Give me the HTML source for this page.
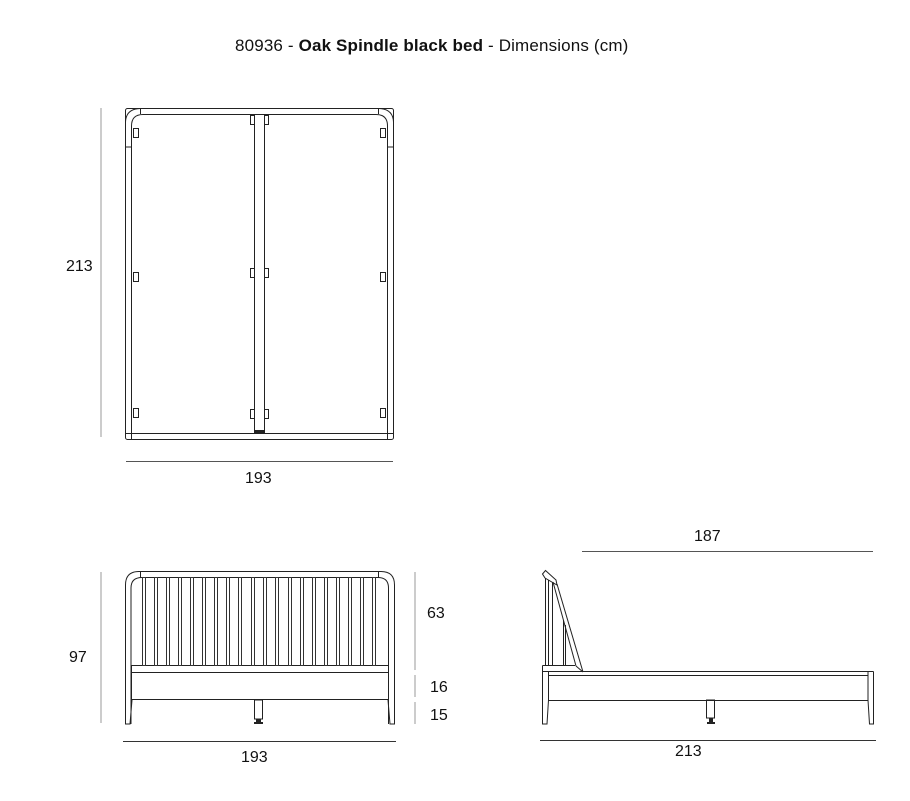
<!DOCTYPE html>
<html><head><meta charset="utf-8"><style>
html,body{margin:0;padding:0;background:#fff;}
svg{display:block;}
text{font-family:"Liberation Sans","DejaVu Sans",sans-serif;fill:#111;}
</style></head><body>
<svg width="910" height="801" viewBox="0 0 910 801" xmlns="http://www.w3.org/2000/svg">
<text x="235" y="51" font-size="17" letter-spacing="0.15"><tspan>80936 - </tspan><tspan font-weight="bold">Oak Spindle black bed</tspan><tspan> - Dimensions (cm)</tspan></text>

<!-- TOP VIEW -->
<g fill="none" stroke="#222" stroke-width="1">
  <rect x="125.5" y="108.5" width="268" height="331" rx="2"/>
  <path d="M131.5 439 V126 Q131.5 114.5 143 114.5 H376 Q387.5 114.5 387.5 126 V439"/>
  <line x1="125.5" y1="433.5" x2="393.5" y2="433.5"/>
  <path d="M125.5 122 Q126 109 140 108.5"/><line x1="140.5" y1="108.5" x2="140.5" y2="114"/>
  <path d="M393.5 122 Q393 109 379 108.5"/><line x1="378.5" y1="108.5" x2="378.5" y2="114"/>
  <line x1="125.5" y1="147" x2="131.5" y2="147"/><line x1="387.5" y1="147" x2="393.5" y2="147"/>
  <rect x="254.5" y="114.5" width="10" height="319"/>
  <rect x="250.5" y="115.5" width="4" height="9"/><rect x="264.5" y="115.5" width="4" height="9"/>
  <rect x="250.5" y="268.5" width="4" height="9"/><rect x="264.5" y="268.5" width="4" height="9"/>
  <rect x="250.5" y="409.5" width="4" height="9"/><rect x="264.5" y="409.5" width="4" height="9"/>
  <rect x="133.5" y="128.5" width="5" height="9"/><rect x="380.5" y="128.5" width="5" height="9"/>
  <rect x="133.5" y="272.5" width="5" height="9"/><rect x="380.5" y="272.5" width="5" height="9"/>
  <rect x="133.5" y="408.5" width="5" height="9"/><rect x="380.5" y="408.5" width="5" height="9"/>
</g>
<rect x="254" y="430" width="11" height="3" fill="#222"/>
<line x1="101" y1="108" x2="101" y2="437" stroke="#999" stroke-width="1"/>
<line x1="126" y1="461.5" x2="393" y2="461.5" stroke="#555" stroke-width="1"/>
<text x="66" y="271" font-size="16">213</text>
<text x="245" y="483" font-size="16">193</text>

<!-- FRONT VIEW -->
<g fill="none" stroke="#222" stroke-width="1">
  <path d="M125.5 724 V585 Q125.5 571.5 139 571.5 H381 Q394.5 571.5 394.5 585 V724"/>
  <path d="M131 724 V588 Q131 577.5 142 577.5 H378 Q388.5 577.5 388.5 588 V724"/>
  <line x1="140.5" y1="571.5" x2="140.5" y2="577.5"/><line x1="378.5" y1="571.5" x2="378.5" y2="577.5"/>
  <rect x="131.5" y="665.5" width="257" height="7"/>
  <rect x="131.5" y="672.5" width="257" height="27"/>
  <path d="M125.5 672 V724 H130 L132 700"/>
  <path d="M394.5 672 V724 H390 L388 700"/>
  <rect x="254.5" y="700" width="8" height="19"/>
</g>
<g fill="none" stroke="#333" stroke-width="1">
  <rect x="142.5" y="577.5" width="3" height="88"/><rect x="154.5" y="577.5" width="3" height="88"/>
  <rect x="166.5" y="577.5" width="3" height="88"/><rect x="178.5" y="577.5" width="3" height="88"/>
  <rect x="190.5" y="577.5" width="3" height="88"/><rect x="202.5" y="577.5" width="3" height="88"/>
  <rect x="214.5" y="577.5" width="3" height="88"/><rect x="226.5" y="577.5" width="3" height="88"/>
  <rect x="238.5" y="577.5" width="3" height="88"/><rect x="251.5" y="577.5" width="3" height="88"/>
  <rect x="263.5" y="577.5" width="3" height="88"/><rect x="275.5" y="577.5" width="3" height="88"/>
  <rect x="288.5" y="577.5" width="3" height="88"/><rect x="300.5" y="577.5" width="3" height="88"/>
  <rect x="312.5" y="577.5" width="3" height="88"/><rect x="324.5" y="577.5" width="3" height="88"/>
  <rect x="336.5" y="577.5" width="3" height="88"/><rect x="348.5" y="577.5" width="3" height="88"/>
  <rect x="360.5" y="577.5" width="3" height="88"/><rect x="372.5" y="577.5" width="3" height="88"/>
</g>
<rect x="256" y="719" width="5" height="5" fill="#222"/><rect x="254" y="722" width="9" height="2" fill="#222"/>
<line x1="101" y1="572" x2="101" y2="723" stroke="#999"/>
<line x1="415" y1="572" x2="415" y2="670" stroke="#999"/>
<line x1="415" y1="675" x2="415" y2="697" stroke="#999"/>
<line x1="415" y1="702" x2="415" y2="724" stroke="#999"/>
<line x1="123" y1="741.5" x2="396" y2="741.5" stroke="#333"/>
<text x="69" y="662" font-size="16">97</text>
<text x="427" y="618" font-size="16">63</text>
<text x="430" y="692" font-size="16">16</text>
<text x="430" y="720" font-size="16">15</text>
<text x="241" y="762" font-size="16">193</text>

<!-- SIDE VIEW -->
<g fill="none" stroke="#222" stroke-width="1">
  <line x1="542.5" y1="671.5" x2="873.5" y2="671.5"/>
  <line x1="548" y1="675.5" x2="868" y2="675.5"/>
  <line x1="548" y1="700.5" x2="868" y2="700.5"/>
  <path d="M542.5 665.5 V724 H547 L548.5 700"/>
  <line x1="548.5" y1="671.5" x2="548.5" y2="700"/>
  <path d="M873.5 671.5 V724 H869.5 L868 700"/>
  <line x1="868" y1="671.5" x2="868" y2="700"/>
  <line x1="542.5" y1="665.5" x2="575" y2="665.5"/>
  <line x1="545.5" y1="578" x2="545.5" y2="665.5"/>
  <line x1="548.5" y1="580" x2="548.5" y2="665.5"/>
  <line x1="552.5" y1="582" x2="552.5" y2="665.5"/>
  <line x1="563.5" y1="620" x2="563.5" y2="665.5"/>
  <line x1="565.5" y1="625" x2="565.5" y2="665.5"/>
  <line x1="553" y1="582" x2="576" y2="666"/>
  <line x1="557" y1="584" x2="583" y2="672"/>
  <line x1="576" y1="666" x2="583" y2="672"/>
  <path d="M542.5 574 L545.5 570.5 L556 580 L557 585 L545 578 Z"/>
  <rect x="706.5" y="700" width="8" height="18"/>
</g>
<rect x="709" y="718" width="4" height="5" fill="#222"/><rect x="707" y="722" width="8" height="2" fill="#222"/>
<line x1="582" y1="551.5" x2="873" y2="551.5" stroke="#555"/>
<line x1="540" y1="740.5" x2="876" y2="740.5" stroke="#333"/>
<text x="694" y="541" font-size="16">187</text>
<text x="675" y="756" font-size="16">213</text>
</svg>
</body></html>
